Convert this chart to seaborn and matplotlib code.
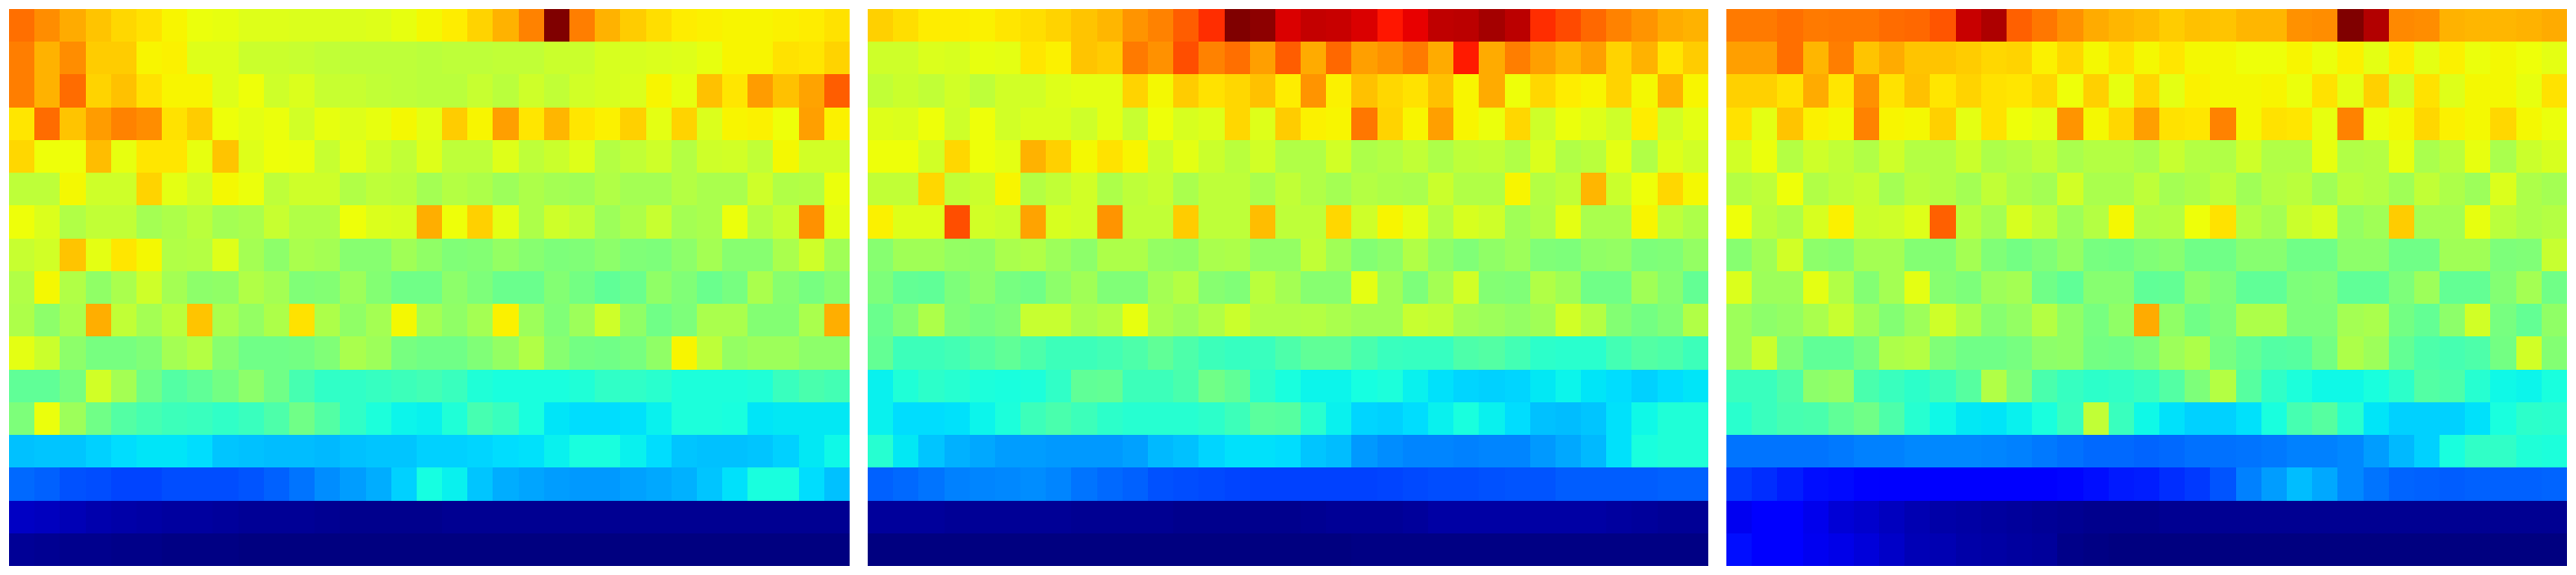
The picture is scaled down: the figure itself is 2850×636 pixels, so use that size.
import matplotlib
matplotlib.use('Agg')
import matplotlib.pyplot as plt
import seaborn as sns

# values, 0-100 on the jet scale
panel_left = [
    [79,76,73,70,68,67,65,63.5,63,62,62,61.5,61.5,61.5,62,63,64.5,66,68.5,72,77,100,77.5,72,69.5,67.5,66,65.5,65,65,65.5,66,67],
    [77.5,72,76,69.5,69.5,65,65.5,62,62,59.5,59.5,59,58.5,58,58,58,57.5,58,58,58.5,58.5,59.5,59.5,61,61,61.5,62,63,65,65,67,66.5,68.5],
    [77.5,72,79.5,68.5,70.5,67,65,65,62,64,60,61.5,59,59,58.5,58,57.5,57.5,59,57.5,60,58.5,60.5,61,61.5,65,63,70.5,66.5,74.5,70.5,73.5,81],
    [66.5,79.5,70,74.5,77,76,67,69.5,64,62.5,63.5,60.5,63,62,63,64.5,62.5,69.5,65,74,66.5,71.5,66.5,65.5,69,62.5,68.5,61.5,65,65.5,64,74,65.5],
    [68,64,64,71,63,66.5,66.5,63,70,62,64,63.5,59,62.5,60,58.5,62,58,58,62,58,59.5,62,57,58.5,60,57,60,60.5,58.5,64.5,60.5,60.5],
    [58,58,64.5,60,60,68.5,62.5,60.5,64.5,63.5,58,60,60,56.5,58,57.5,55,57,56,54,56,55,54.5,56.5,55,55,57,55.5,55.5,60,56.5,57,63.5],
    [64,61.5,56.5,58.5,58.5,55,56,57.5,55,55.5,59,56.5,56.5,64,61.5,61,72.5,64,69,62.5,56,60,58.5,54,56,59,55,55.5,63.5,57,59,75.5,62.5],
    [59,60.5,70,62.5,66.5,64.5,56.5,57,62,55,52,55.5,55,51.5,51.5,54.5,52.5,50.5,51,53,51.5,50,50.5,52,50.5,50,52,55,51.5,51.5,55.5,60,54.5],
    [56.5,64.5,56.5,52.5,55.5,60,55,52,52.5,56.5,55,50.5,51,54,51,48.5,48.5,52,50,48,48,51,49,46.5,48,52.5,50.5,48,49.5,55.5,51.5,49.5,51.5],
    [56,52,55.5,72.5,58.5,55,57.5,70,55.5,53,56,67,56,52.5,55,64.5,55,52.5,55,65.5,54,50.5,54,60,52.5,48.5,50,55.5,55.5,51,51,55.5,72.5],
    [62.5,59.5,52,49.5,49.5,50.5,55,57,51.5,48.5,48.5,49,50.5,55.5,54,49.5,48.5,48.5,50.5,53,56.5,51.5,49,48.5,49.5,52.5,65,58,53,54,54,52,52],
    [46.5,46.5,49.5,60.5,55,48.5,45,46.5,49,52,48.5,43.5,41,41,41.5,42.5,43,42,39,38,38,38,39,41,41,40,38.5,38.5,38.5,39,42,44,43],
    [50,63.5,54,48.5,45,43.5,42.5,42,41,42,44.5,48.5,45,41,38.5,36.5,36,39,43.5,42,38,35,34,34,34.5,36,38.5,38.5,38,35,35.5,35.5,35.5],
    [31.5,32,32,33,34,35,35,34,32,31.3,31,31,30.5,31.5,32,32,33,33,33.5,34,34.5,36,38,38,36,34,32,31.5,31.5,32,33,35.5,37],
    [22.7,22,20.7,20,19.5,19.5,20,20.3,20.3,21,22,24,26.5,28,29.5,33,37.5,36,32,29.5,28.8,28,27.5,27.5,28.2,29,30,32,34.5,38,38,34,31.5],
    [5.9,5.5,5,4.2,3.9,3.2,2.8,2.8,2.5,2.1,2.1,2.1,1.8,1.5,1.5,1.4,1.4,1.7,1.7,1.7,1.7,1.7,1.7,1.7,1.7,1.7,1.7,1.7,1.7,1.7,1.7,1.7,1.7],
    [2.1,1.9,1.5,1.2,1.1,0.8,0.6,0.6,0.4,0.2,0,0,0,0,0,0,0,0.2,0.2,0.2,0.2,0.2,0.2,0.2,0.2,0.2,0.2,0.2,0.2,0.2,0.2,0.2,0.2],
]

panel_mid = [
    [69,67.5,66,66,65.5,66.5,67.5,68.5,70,71.5,75,77,81,86,100,98.5,92,93.8,93.5,92,88.5,91,94.3,94.7,96.6,94.7,86,83,80,77,75,73,72],
    [60,60,61.5,61,63,62.5,66.5,65.5,70,69.5,78,75.5,82.5,77,79,74,81,73,80,74,75.5,78,73,88,73,77.5,74,71.5,74,68.5,72,66.5,69.5],
    [58.5,59.5,58.5,60.5,58,60.5,60.5,62,62.5,62.5,68.5,64.5,69.5,67,68,70.5,66,75,65.5,70.5,68,67,70.5,65,73,64,68,66,65,68.5,64.5,72,65],
    [62,61.5,64,60,64,60.5,61.5,61.5,60,62.5,59,64,61,62,68,62,69.5,65.5,65,78.5,68.5,65,74,65,63.5,68,60,63.5,62,60,66,60.5,62.5],
    [64,64,60.5,68,64,62.5,72,69,64.5,67,65,59.5,62.5,59.5,57.5,60.5,56.5,56.5,60.5,56,57,58.5,56,58,58.5,56.5,61.5,56.5,57.5,62.5,56.5,62,60.5],
    [58.5,58.5,68,58.5,59.5,65,57,58.5,60.5,56,58,59,55.5,58,58,55.5,58.5,56.5,55,57,56,55.5,59.5,56.5,56.5,65,57,58.5,71.5,59.5,64,68,64.5],
    [65.5,62,62,82.5,60.5,59.5,73.5,61,60.5,75,58.5,58.5,69.5,58,58,71,58,58,68,60,65,62.5,57,61,60,54.5,56.5,62.5,55.5,55.5,65,58,56],
    [51.5,54.5,54.5,53,52.5,55.5,56.5,54,52,56,56,53,52.5,55.5,56,53,53,58.5,54.5,51,52,56.5,52.5,50.5,52.5,54,50.5,50,52.5,53,50,50.5,53],
    [50,47,46.5,50,52,49.5,48.5,52,54.5,50.5,50.5,55,57,51.5,50.5,57.5,55,51.5,51.5,62.5,54.5,50,55,60.5,51,50.5,56.5,54.5,48.5,48.5,54.5,51.5,47],
    [48,51,56,50.5,49.5,50.5,59,59,55.5,57,63,55.5,54,56.5,59.5,56.5,56.5,57,55.5,54.5,54.5,59,58.5,55,54,53,54.5,60.5,57,51,49,50.5,56.5],
    [47,42.5,42.5,43,45,46.5,44.5,42.5,42.5,43,44.5,46.5,44.5,42.5,41.5,42,44.5,46.5,46.5,44,42,41.5,41.5,44.5,45,43,40.5,40,40,43,45,44.5,42.5],
    [36,39,40.5,39.5,38.5,38,38.5,41,46.5,47,42.5,42.5,44,48.5,46.5,40.5,38,36.5,36.5,37.5,38.5,36,34.5,33.5,33,33.5,35.5,36.5,35,34,33,34,35],
    [36,34,34,34.5,36.5,38.5,42.5,44,42.5,40.5,39.5,39.5,39.5,40.5,42.5,46,45.5,40,36,33.5,33,34,36,38,36,34,31.5,31,32,34.5,37,39,39],
    [39.5,35.5,32,30,29,28,28,27.5,27.5,27.5,28.5,30.5,31.5,33.5,34.5,34.5,34,32,31,27.5,26.5,25.5,25.5,25,25.5,25.5,27.5,29,30.5,34.5,38,39,39],
    [22,23,24,25,25.5,26,26.5,25.5,24,23,22,20.5,20,19.7,19.5,19,18.8,18.8,18.8,19,19.5,19.7,20,20,20.5,21,21,21.5,21.5,21.5,21.5,22,22],
    [2.4,2.4,2.4,2.2,2.2,2,2,2,1.8,1.7,1.6,1.6,1.5,1.5,1.5,1.5,1.5,1.6,2,2,2,2.6,3.2,3.4,3.4,3.4,3.4,3.4,3.4,2.8,2.4,2.2,2.2],
    [0.3,0.3,0.2,0.2,0,0,0,0,0,0,0,0,0,0,0,0,0,0.3,0.3,0.4,0.4,0.5,0.5,0.5,0.5,0.6,0.6,0.6,0.6,0.6,0.6,0.6,0.6],
]

panel_right = [
    [78,78,79,78,78.5,78.5,79.5,80,82,93.5,96,80.5,78.5,75.5,73,71.5,71,69.5,70.5,70,71.5,71.5,75.5,76,100,95.5,76.5,76,72,71.5,71.5,72,73],
    [74,74,79,71.5,77.5,70,73,70,70,69.5,68,68.5,65.5,68,64.5,67,64.5,66.5,64.5,64.5,64,64,65,63.5,65.5,62.5,66,62.5,65.5,63.5,64.5,64,62.5],
    [69,69,67,73,66.5,75.5,67,70.5,66.5,68.5,67,66.5,68,64,69,63,68,62.5,65.5,64.5,64.5,65,63.5,67,62.5,69,60.5,67,62,64.5,64.5,63,67],
    [67,62.5,70,65.5,64.5,77,65,64.5,69,62.5,67,64,62.5,75,64.5,68,74,67,66.5,77,64.5,67,66.5,63,77,63.5,64.5,68,65.5,64.5,68,64.5,63.5],
    [60.5,63.5,57,60,58.5,56.5,60,57,57,59.5,56,57,58.5,55.5,57,57,55.5,59,57,56.5,60,56.5,56.5,63,56.5,57,63,55.5,57.5,63,55.5,59.5,61],
    [57,58,64,56.5,58,59,55,57.5,57,55,58.5,56,55,60.5,55.5,55.5,58,55,56,58,54.5,57,57.5,54.5,57.5,57,54.5,58.5,56,54,61.5,56,55],
    [64,57.5,56,61,65.5,59.5,60,62,80.5,57.5,55,61,58.5,54,57,64.5,56.5,57,64,67,57,55,59.5,61,53,54.5,69.5,55,55,63,57.5,56,57],
    [51.5,54.5,60.5,52,51.5,55,55,51,51,55,50.5,49,50.5,53,49.5,49,50.5,51.5,48.5,48.5,51.5,51.5,48.5,48.5,52,52,48.5,48.5,54.5,54.5,50,50.5,59],
    [61.5,54,54,62.5,56.5,51,55,62.5,51.5,50,54,55,48.5,46.5,51.5,51.5,46.5,47,52,50.5,46.5,46.5,50,50.5,46.5,46.5,50,54,47,47,51,55,48.5],
    [54,52,53,55.5,59,54.5,51,54,60,56,51.5,53,57,52.5,49.5,52.5,73,52.5,48.5,50,56,56,50,50,55,55.5,49,47,52,60.5,49.5,47,52.5],
    [54,59.5,50.5,46.5,46.5,49.5,56,57,50.5,48.5,48.5,49.5,52,52.5,49,48.5,50,54,56,49.5,47,45,45.5,49,56,54,47,44.5,43.5,44.5,49,60.5,51],
    [42,42,44.5,52,53,44,42,40.5,42.5,45.5,56.5,50.5,44,41.5,40.5,41,42,45,50,57,45.5,41,38.5,37,37,38,40.5,45,44.5,39.5,37,36.5,38],
    [40,42,43.5,44,46.5,48.5,44.5,39.5,37,35.5,35,36,38,42,58.5,42,37,34.5,33,33,34.5,38,43.5,45.5,40,35,33,33,33,34.5,38,40.5,40],
    [24,24,24,24,24.5,25,25,26,26,26,25.5,25,24.5,23.5,23,23,22.5,23,23.5,23.5,24,24.5,25,25,26,28,30.5,33,38,41,41,39,38.5],
    [18,17,15.5,14,13.5,12.5,12,12,12,12,12,12,12,13,14,15,15.5,17,18,21,25,28,31,29,26,24,22.5,22,21.5,22,22,22,22.5],
    [10,11,11,9.5,7.5,7,5.5,4.6,3.8,3.2,2.8,2.4,2.1,1.9,1.5,1.5,1.2,1.8,1.8,1.8,1.8,1.8,1.8,1.8,1.8,1.7,1.7,1.7,1.7,1.7,1.7,1.7,1.7],
    [14,11.5,11,10,9,8,6.5,5,4.5,3.8,3.2,2.8,2.4,0.8,0.5,0.2,0,0.3,0.3,0.3,0,0,0,0,0,0,0,0,0,0,0,0,0],
]

panels = [panel_left, panel_mid, panel_right]

fig = plt.figure(figsize=(28.5, 6.36), dpi=100)
for i, data in enumerate(panels):
    ax = fig.add_axes([(10 + i * 950) / 2850, 10 / 636, 930 / 2850, 616 / 636])
    sns.heatmap(data, cmap='jet', vmin=0, vmax=100, cbar=False,
                xticklabels=False, yticklabels=False, ax=ax)

fig.savefig('out.png', dpi=100)
